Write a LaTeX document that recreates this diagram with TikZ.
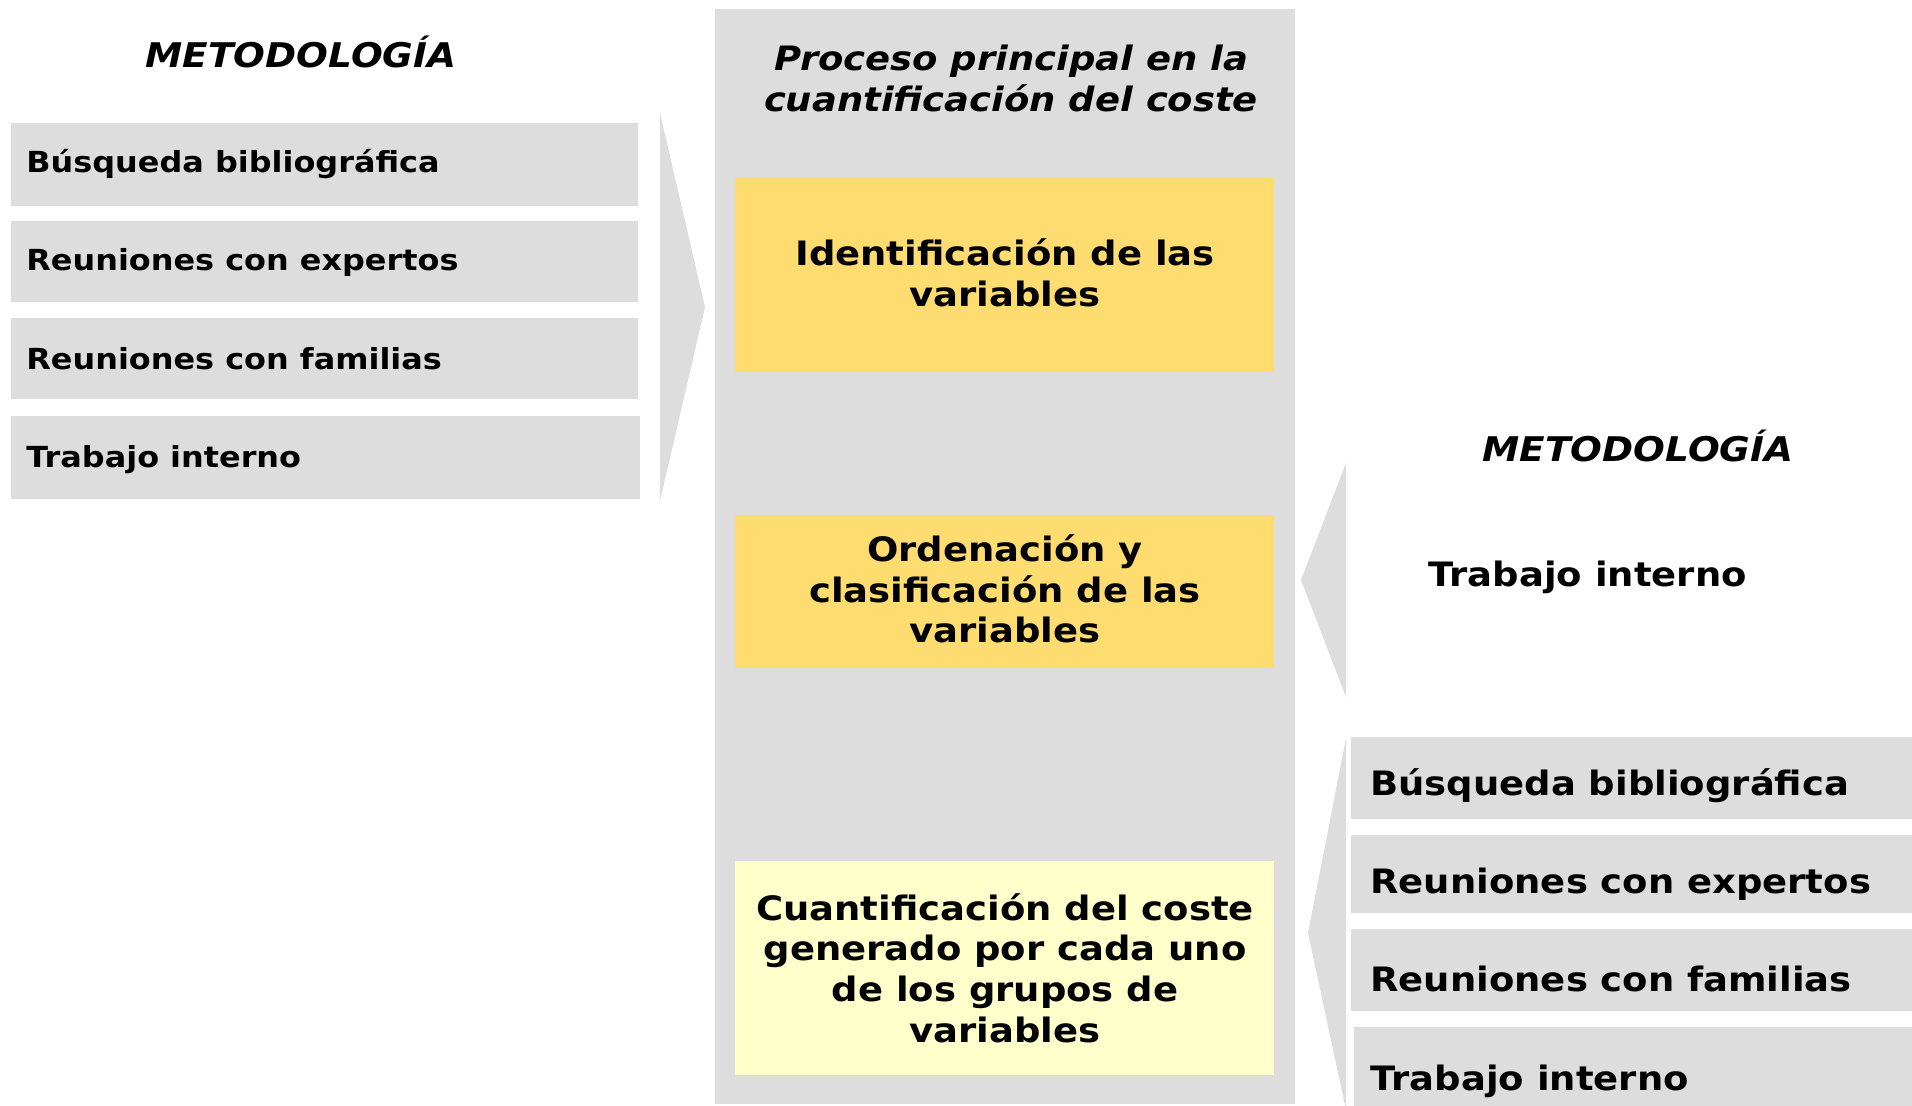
\documentclass[tikz,border=0pt]{standalone}
\usepackage{fontspec}
\setmainfont{DejaVu Sans}[FakeStretch=1.1]
\definecolor{gr}{RGB}{221,221,221}
\definecolor{ye}{RGB}{255,220,112}
\definecolor{lye}{RGB}{255,255,204}
\tikzset{
  lefttxt/.style={anchor=base west,inner sep=0pt,font=\bfseries\fontsize{14.5}{17}\selectfont},
  righttxt/.style={anchor=base west,inner sep=0pt,font=\bfseries\fontsize{16.8}{19.5}\selectfont},
  metotxt/.style={anchor=base,inner sep=0pt,font=\bfseries\itshape\fontsize{17}{19.5}\selectfont},
  boxtxt/.style={align=center,inner sep=0pt,font=\bfseries\fontsize{16.8}{20.3}\selectfont},
  titletxt/.style={align=center,inner sep=0pt,font=\bfseries\itshape\fontsize{16.8}{20.5}\selectfont}
}
\begin{document}
\begin{tikzpicture}[x=0.5pt,y=-0.5pt]
\useasboundingbox (0,0) rectangle (1912,1106);
\begin{scope}
\clip (0,0) rectangle (1912,1106);
% left column
\fill[gr] (11,123) rectangle (638,206);
\fill[gr] (11,221) rectangle (638,302);
\fill[gr] (11,318) rectangle (638,399);
\fill[gr] (11,416) rectangle (640,499);
\fill[gr] (660,113) -- (705,307) -- (660,501) -- cycle;
% centre panel
\fill[gr] (715,9) rectangle (1295,1104);
\fill[ye] (735,178) rectangle (1274,372);
\fill[ye] (735,515) rectangle (1274,668);
\fill[lye] (735,861) rectangle (1274,1075);
% right column
\fill[gr] (1346,463) -- (1301,580) -- (1346,697) -- cycle;
\fill[gr] (1346,738) -- (1308,933) -- (1346,1110) -- cycle;
\fill[gr] (1351,737) rectangle (1912,819);
\fill[gr] (1351,835) rectangle (1912,913);
\fill[gr] (1351,929) rectangle (1912,1011);
\fill[gr] (1354,1027) rectangle (1912,1110);
\end{scope}
% texts
\node[metotxt] (m1) at (301,68) {METODOLOGÍA};
\node[lefttxt] (l1) at (26,173) {Búsqueda bibliográfica};
\node[lefttxt] (l2) at (26,271) {Reuniones con expertos};
\node[lefttxt] (l3) at (26,370) {Reuniones con familias};
\node[lefttxt] (l4) at (26,468) {Trabajo interno};
\node[titletxt] (t) at (1011,78) {Proceso principal en la\\cuantificación del coste};
\node[boxtxt] (c1) at (1005,273) {Identificación de las\\variables};
\node[boxtxt] (c2) at (1005,589) {Ordenación y\\clasificación de las\\variables};
\node[boxtxt] (c3) at (1005,968) {Cuantificación del coste\\generado por cada uno\\de los grupos de\\variables};
\node[metotxt] (m2) at (1638,462) {METODOLOGÍA};
\node[righttxt] (r0) at (1428,587) {Trabajo interno};
\node[righttxt] (r1) at (1370,795) {Búsqueda bibliográfica};
\node[righttxt] (r2) at (1370,893) {Reuniones con expertos};
\node[righttxt] (r3) at (1370,991) {Reuniones con familias};
\node[righttxt] (r4) at (1370,1090) {Trabajo interno};
\end{tikzpicture}
\end{document}
